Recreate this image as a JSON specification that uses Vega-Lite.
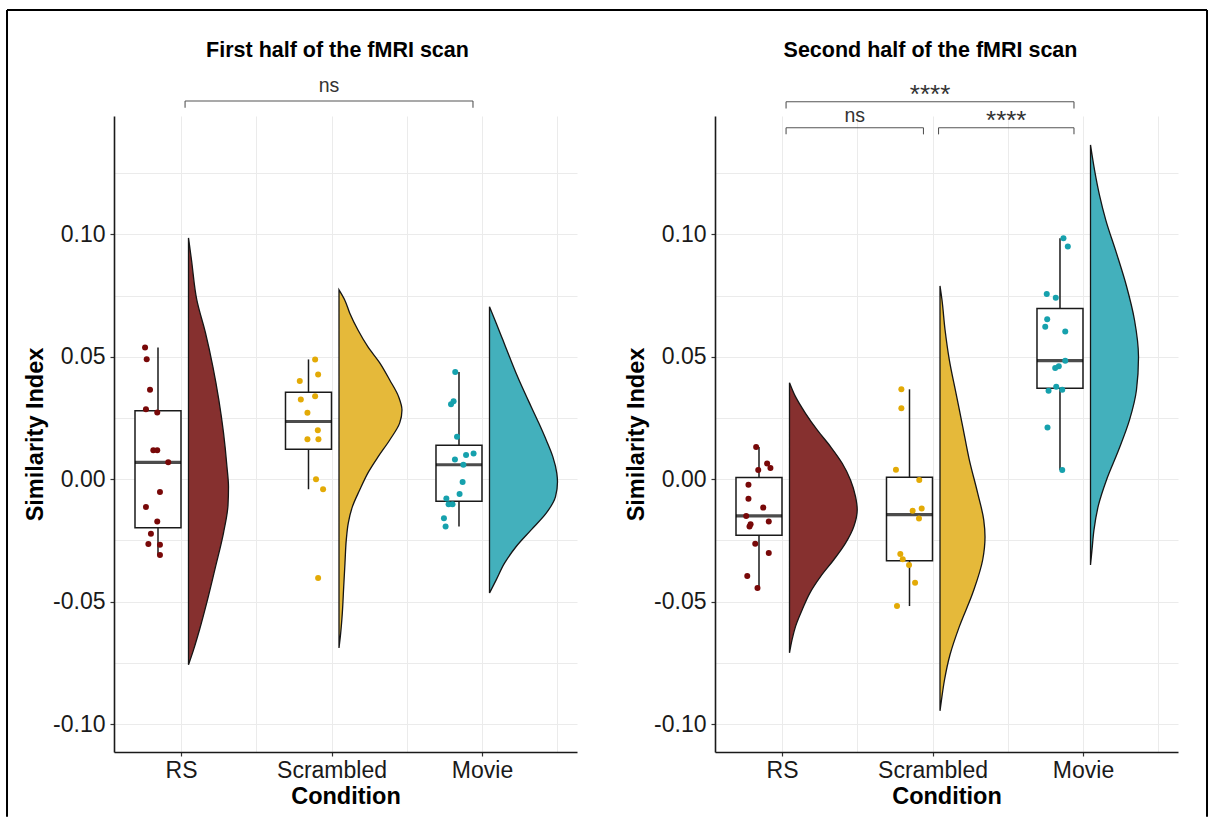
{
  "$schema": "https://vega.github.io/schema/vega-lite/v6.json",
  "background": "white",
  "padding": {"left": 6, "top": 9, "right": 0, "bottom": 0},
  "bounds": "flush",
  "spacing": 138,
  "config": {
    "font": "Liberation Sans",
    "view": {"stroke": null},
    "axis": {"labelFont": "Liberation Sans", "titleFont": "Liberation Sans"}
  },
  "datasets": {
    "sim": [
      {"h": "First", "cond": "RS", "value": 0.0538, "jitter": -0.086},
      {"h": "First", "cond": "RS", "value": 0.0490, "jitter": -0.075},
      {"h": "First", "cond": "RS", "value": 0.0365, "jitter": -0.053},
      {"h": "First", "cond": "RS", "value": 0.0286, "jitter": -0.080},
      {"h": "First", "cond": "RS", "value": 0.0272, "jitter": -0.005},
      {"h": "First", "cond": "RS", "value": 0.0118, "jitter": -0.031},
      {"h": "First", "cond": "RS", "value": 0.0118, "jitter": -0.005},
      {"h": "First", "cond": "RS", "value": 0.0069, "jitter": 0.068},
      {"h": "First", "cond": "RS", "value": -0.0052, "jitter": 0.013},
      {"h": "First", "cond": "RS", "value": -0.0114, "jitter": -0.080},
      {"h": "First", "cond": "RS", "value": -0.0173, "jitter": -0.005},
      {"h": "First", "cond": "RS", "value": -0.0223, "jitter": -0.047},
      {"h": "First", "cond": "RS", "value": -0.0265, "jitter": -0.064},
      {"h": "First", "cond": "RS", "value": -0.0268, "jitter": 0.013},
      {"h": "First", "cond": "RS", "value": -0.0310, "jitter": 0.013},
      {"h": "First", "cond": "Scrambled", "value": 0.0489, "jitter": 0.044},
      {"h": "First", "cond": "Scrambled", "value": 0.0427, "jitter": 0.064},
      {"h": "First", "cond": "Scrambled", "value": 0.0401, "jitter": -0.058},
      {"h": "First", "cond": "Scrambled", "value": 0.0339, "jitter": 0.044},
      {"h": "First", "cond": "Scrambled", "value": 0.0325, "jitter": -0.051},
      {"h": "First", "cond": "Scrambled", "value": 0.0271, "jitter": -0.007},
      {"h": "First", "cond": "Scrambled", "value": 0.0200, "jitter": 0.062},
      {"h": "First", "cond": "Scrambled", "value": 0.0163, "jitter": -0.007},
      {"h": "First", "cond": "Scrambled", "value": 0.0163, "jitter": 0.066},
      {"h": "First", "cond": "Scrambled", "value": 0.0000, "jitter": 0.050},
      {"h": "First", "cond": "Scrambled", "value": -0.0041, "jitter": 0.097},
      {"h": "First", "cond": "Scrambled", "value": -0.0404, "jitter": 0.064},
      {"h": "First", "cond": "Movie", "value": 0.0438, "jitter": -0.025},
      {"h": "First", "cond": "Movie", "value": 0.0306, "jitter": -0.053},
      {"h": "First", "cond": "Movie", "value": 0.0318, "jitter": -0.036},
      {"h": "First", "cond": "Movie", "value": 0.0173, "jitter": -0.013},
      {"h": "First", "cond": "Movie", "value": 0.0105, "jitter": 0.097},
      {"h": "First", "cond": "Movie", "value": 0.0099, "jitter": 0.047},
      {"h": "First", "cond": "Movie", "value": 0.0080, "jitter": -0.027},
      {"h": "First", "cond": "Movie", "value": 0.0059, "jitter": 0.029},
      {"h": "First", "cond": "Movie", "value": -0.0011, "jitter": 0.024},
      {"h": "First", "cond": "Movie", "value": -0.0061, "jitter": 0.004},
      {"h": "First", "cond": "Movie", "value": -0.0079, "jitter": -0.084},
      {"h": "First", "cond": "Movie", "value": -0.0102, "jitter": -0.069},
      {"h": "First", "cond": "Movie", "value": -0.0102, "jitter": -0.043},
      {"h": "First", "cond": "Movie", "value": -0.0160, "jitter": -0.100},
      {"h": "First", "cond": "Movie", "value": -0.0193, "jitter": -0.089},
      {"h": "Second", "cond": "RS", "value": 0.0131, "jitter": -0.019},
      {"h": "Second", "cond": "RS", "value": 0.0064, "jitter": 0.054},
      {"h": "Second", "cond": "RS", "value": 0.0046, "jitter": 0.076},
      {"h": "Second", "cond": "RS", "value": 0.0037, "jitter": -0.005},
      {"h": "Second", "cond": "RS", "value": -0.0023, "jitter": -0.070},
      {"h": "Second", "cond": "RS", "value": -0.0080, "jitter": -0.070},
      {"h": "Second", "cond": "RS", "value": -0.0116, "jitter": 0.028},
      {"h": "Second", "cond": "RS", "value": -0.0150, "jitter": -0.085},
      {"h": "Second", "cond": "RS", "value": -0.0173, "jitter": 0.065},
      {"h": "Second", "cond": "RS", "value": -0.0184, "jitter": -0.056},
      {"h": "Second", "cond": "RS", "value": -0.0193, "jitter": -0.063},
      {"h": "Second", "cond": "RS", "value": -0.0264, "jitter": -0.025},
      {"h": "Second", "cond": "RS", "value": -0.0301, "jitter": 0.065},
      {"h": "Second", "cond": "RS", "value": -0.0395, "jitter": -0.078},
      {"h": "Second", "cond": "RS", "value": -0.0444, "jitter": -0.010},
      {"h": "Second", "cond": "Scrambled", "value": 0.0367, "jitter": -0.054},
      {"h": "Second", "cond": "Scrambled", "value": 0.0290, "jitter": -0.054},
      {"h": "Second", "cond": "Scrambled", "value": 0.0039, "jitter": -0.090},
      {"h": "Second", "cond": "Scrambled", "value": -0.0003, "jitter": 0.065},
      {"h": "Second", "cond": "Scrambled", "value": -0.0120, "jitter": 0.081},
      {"h": "Second", "cond": "Scrambled", "value": -0.0129, "jitter": 0.021},
      {"h": "Second", "cond": "Scrambled", "value": -0.0161, "jitter": 0.063},
      {"h": "Second", "cond": "Scrambled", "value": -0.0306, "jitter": -0.061},
      {"h": "Second", "cond": "Scrambled", "value": -0.0327, "jitter": -0.045},
      {"h": "Second", "cond": "Scrambled", "value": -0.0350, "jitter": -0.003},
      {"h": "Second", "cond": "Scrambled", "value": -0.0423, "jitter": 0.037},
      {"h": "Second", "cond": "Scrambled", "value": -0.0518, "jitter": -0.083},
      {"h": "Second", "cond": "Movie", "value": 0.0984, "jitter": 0.023},
      {"h": "Second", "cond": "Movie", "value": 0.0950, "jitter": 0.052},
      {"h": "Second", "cond": "Movie", "value": 0.0756, "jitter": -0.088},
      {"h": "Second", "cond": "Movie", "value": 0.0741, "jitter": -0.028},
      {"h": "Second", "cond": "Movie", "value": 0.0653, "jitter": -0.085},
      {"h": "Second", "cond": "Movie", "value": 0.0622, "jitter": -0.098},
      {"h": "Second", "cond": "Movie", "value": 0.0603, "jitter": 0.035},
      {"h": "Second", "cond": "Movie", "value": 0.0484, "jitter": 0.035},
      {"h": "Second", "cond": "Movie", "value": 0.0461, "jitter": -0.008},
      {"h": "Second", "cond": "Movie", "value": 0.0454, "jitter": -0.032},
      {"h": "Second", "cond": "Movie", "value": 0.0377, "jitter": -0.025},
      {"h": "Second", "cond": "Movie", "value": 0.0365, "jitter": 0.015},
      {"h": "Second", "cond": "Movie", "value": 0.0361, "jitter": -0.076},
      {"h": "Second", "cond": "Movie", "value": 0.0211, "jitter": -0.083},
      {"h": "Second", "cond": "Movie", "value": 0.0037, "jitter": 0.015}
    ],
    "violin": [
      {"h": "First", "cond": "RS", "v": 0.0985, "d": 0},
      {"h": "First", "cond": "RS", "v": 0.0895, "d": 0.044},
      {"h": "First", "cond": "RS", "v": 0.0732, "d": 0.122},
      {"h": "First", "cond": "RS", "v": 0.0597, "d": 0.25},
      {"h": "First", "cond": "RS", "v": 0.0459, "d": 0.359},
      {"h": "First", "cond": "RS", "v": 0.0324, "d": 0.446},
      {"h": "First", "cond": "RS", "v": 0.0189, "d": 0.515},
      {"h": "First", "cond": "RS", "v": 0.0050, "d": 0.566},
      {"h": "First", "cond": "RS", "v": -0.0031, "d": 0.588},
      {"h": "First", "cond": "RS", "v": -0.0105, "d": 0.581},
      {"h": "First", "cond": "RS", "v": -0.0219, "d": 0.515},
      {"h": "First", "cond": "RS", "v": -0.0358, "d": 0.397},
      {"h": "First", "cond": "RS", "v": -0.0493, "d": 0.279},
      {"h": "First", "cond": "RS", "v": -0.0615, "d": 0.162},
      {"h": "First", "cond": "RS", "v": -0.0697, "d": 0.074},
      {"h": "First", "cond": "RS", "v": -0.0758, "d": 0},
      {"h": "First", "cond": "Scrambled", "v": 0.0773, "d": 0},
      {"h": "First", "cond": "Scrambled", "v": 0.0732, "d": 0.084},
      {"h": "First", "cond": "Scrambled", "v": 0.0679, "d": 0.157},
      {"h": "First", "cond": "Scrambled", "v": 0.0609, "d": 0.279},
      {"h": "First", "cond": "Scrambled", "v": 0.0540, "d": 0.426},
      {"h": "First", "cond": "Scrambled", "v": 0.0475, "d": 0.599},
      {"h": "First", "cond": "Scrambled", "v": 0.0405, "d": 0.746},
      {"h": "First", "cond": "Scrambled", "v": 0.0336, "d": 0.878},
      {"h": "First", "cond": "Scrambled", "v": 0.0283, "d": 0.926},
      {"h": "First", "cond": "Scrambled", "v": 0.0230, "d": 0.893},
      {"h": "First", "cond": "Scrambled", "v": 0.0160, "d": 0.746},
      {"h": "First", "cond": "Scrambled", "v": 0.0091, "d": 0.574},
      {"h": "First", "cond": "Scrambled", "v": 0.0026, "d": 0.426},
      {"h": "First", "cond": "Scrambled", "v": -0.0044, "d": 0.304},
      {"h": "First", "cond": "Scrambled", "v": -0.0113, "d": 0.196},
      {"h": "First", "cond": "Scrambled", "v": -0.0178, "d": 0.137},
      {"h": "First", "cond": "Scrambled", "v": -0.0248, "d": 0.107},
      {"h": "First", "cond": "Scrambled", "v": -0.0342, "d": 0.088},
      {"h": "First", "cond": "Scrambled", "v": -0.0440, "d": 0.069},
      {"h": "First", "cond": "Scrambled", "v": -0.0546, "d": 0.049},
      {"h": "First", "cond": "Scrambled", "v": -0.0636, "d": 0.022},
      {"h": "First", "cond": "Scrambled", "v": -0.0689, "d": 0},
      {"h": "First", "cond": "Movie", "v": 0.0704, "d": 0},
      {"h": "First", "cond": "Movie", "v": 0.0637, "d": 0.099},
      {"h": "First", "cond": "Movie", "v": 0.0569, "d": 0.196},
      {"h": "First", "cond": "Movie", "v": 0.0500, "d": 0.294},
      {"h": "First", "cond": "Movie", "v": 0.0432, "d": 0.393},
      {"h": "First", "cond": "Movie", "v": 0.0364, "d": 0.5},
      {"h": "First", "cond": "Movie", "v": 0.0296, "d": 0.613},
      {"h": "First", "cond": "Movie", "v": 0.0229, "d": 0.725},
      {"h": "First", "cond": "Movie", "v": 0.0160, "d": 0.834},
      {"h": "First", "cond": "Movie", "v": 0.0092, "d": 0.931},
      {"h": "First", "cond": "Movie", "v": 0.0024, "d": 0.99},
      {"h": "First", "cond": "Movie", "v": -0.0010, "d": 1.0},
      {"h": "First", "cond": "Movie", "v": -0.0071, "d": 0.971},
      {"h": "First", "cond": "Movie", "v": -0.0139, "d": 0.834},
      {"h": "First", "cond": "Movie", "v": -0.0207, "d": 0.613},
      {"h": "First", "cond": "Movie", "v": -0.0275, "d": 0.393},
      {"h": "First", "cond": "Movie", "v": -0.0343, "d": 0.221},
      {"h": "First", "cond": "Movie", "v": -0.0411, "d": 0.099},
      {"h": "First", "cond": "Movie", "v": -0.0465, "d": 0},
      {"h": "Second", "cond": "RS", "v": 0.0394, "d": 0},
      {"h": "Second", "cond": "RS", "v": 0.0337, "d": 0.088},
      {"h": "Second", "cond": "RS", "v": 0.0269, "d": 0.235},
      {"h": "Second", "cond": "RS", "v": 0.0201, "d": 0.407},
      {"h": "Second", "cond": "RS", "v": 0.0133, "d": 0.603},
      {"h": "Second", "cond": "RS", "v": 0.0065, "d": 0.775},
      {"h": "Second", "cond": "RS", "v": -0.0003, "d": 0.897},
      {"h": "Second", "cond": "RS", "v": -0.0071, "d": 0.971},
      {"h": "Second", "cond": "RS", "v": -0.0125, "d": 0.996},
      {"h": "Second", "cond": "RS", "v": -0.0193, "d": 0.946},
      {"h": "Second", "cond": "RS", "v": -0.0261, "d": 0.824},
      {"h": "Second", "cond": "RS", "v": -0.0329, "d": 0.651},
      {"h": "Second", "cond": "RS", "v": -0.0398, "d": 0.456},
      {"h": "Second", "cond": "RS", "v": -0.0465, "d": 0.299},
      {"h": "Second", "cond": "RS", "v": -0.0533, "d": 0.187},
      {"h": "Second", "cond": "RS", "v": -0.0602, "d": 0.088},
      {"h": "Second", "cond": "RS", "v": -0.0656, "d": 0.037},
      {"h": "Second", "cond": "RS", "v": -0.0709, "d": 0},
      {"h": "Second", "cond": "Scrambled", "v": 0.0789, "d": 0},
      {"h": "Second", "cond": "Scrambled", "v": 0.0732, "d": 0.029},
      {"h": "Second", "cond": "Scrambled", "v": 0.0610, "d": 0.074},
      {"h": "Second", "cond": "Scrambled", "v": 0.0487, "d": 0.137},
      {"h": "Second", "cond": "Scrambled", "v": 0.0351, "d": 0.235},
      {"h": "Second", "cond": "Scrambled", "v": 0.0215, "d": 0.334},
      {"h": "Second", "cond": "Scrambled", "v": 0.0079, "d": 0.431},
      {"h": "Second", "cond": "Scrambled", "v": -0.0057, "d": 0.554},
      {"h": "Second", "cond": "Scrambled", "v": -0.0166, "d": 0.643},
      {"h": "Second", "cond": "Scrambled", "v": -0.0236, "d": 0.662},
      {"h": "Second", "cond": "Scrambled", "v": -0.0329, "d": 0.628},
      {"h": "Second", "cond": "Scrambled", "v": -0.0465, "d": 0.481},
      {"h": "Second", "cond": "Scrambled", "v": -0.0602, "d": 0.284},
      {"h": "Second", "cond": "Scrambled", "v": -0.0717, "d": 0.147},
      {"h": "Second", "cond": "Scrambled", "v": -0.0820, "d": 0.066},
      {"h": "Second", "cond": "Scrambled", "v": -0.0901, "d": 0.022},
      {"h": "Second", "cond": "Scrambled", "v": -0.0946, "d": 0},
      {"h": "Second", "cond": "Movie", "v": 0.1365, "d": 0},
      {"h": "Second", "cond": "Movie", "v": 0.1263, "d": 0.059},
      {"h": "Second", "cond": "Movie", "v": 0.1160, "d": 0.132},
      {"h": "Second", "cond": "Movie", "v": 0.1058, "d": 0.225},
      {"h": "Second", "cond": "Movie", "v": 0.0923, "d": 0.382},
      {"h": "Second", "cond": "Movie", "v": 0.0789, "d": 0.529},
      {"h": "Second", "cond": "Movie", "v": 0.0650, "d": 0.647},
      {"h": "Second", "cond": "Movie", "v": 0.0499, "d": 0.706},
      {"h": "Second", "cond": "Movie", "v": 0.0364, "d": 0.676},
      {"h": "Second", "cond": "Movie", "v": 0.0242, "d": 0.574},
      {"h": "Second", "cond": "Movie", "v": 0.0118, "d": 0.412},
      {"h": "Second", "cond": "Movie", "v": -0.0003, "d": 0.235},
      {"h": "Second", "cond": "Movie", "v": -0.0105, "d": 0.118},
      {"h": "Second", "cond": "Movie", "v": -0.0207, "d": 0.051},
      {"h": "Second", "cond": "Movie", "v": -0.0289, "d": 0.022},
      {"h": "Second", "cond": "Movie", "v": -0.0350, "d": 0}
    ],
    "sig": [
      {"h": "First", "xmin": 1.027, "xmax": 2.94, "yb": 0.1544, "ytip": 0.1517, "label": "ns"},
      {"h": "Second", "xmin": 1.027, "xmax": 2.94, "yb": 0.1541, "ytip": 0.1514, "label": "****"},
      {"h": "Second", "xmin": 1.027, "xmax": 1.94, "yb": 0.1435, "ytip": 0.1408, "label": "ns"},
      {"h": "Second", "xmin": 2.04, "xmax": 2.94, "yb": 0.1435, "ytip": 0.1408, "label": "****"}
    ]
  },
  "hconcat": [
    {
      "width": 463,
      "height": 636,
      "resolve": {"scale": {"x": "independent"}, "axis": {"y": "independent"}},
      "layer": [
        {
          "data": {"name": "sig"},
          "transform": [{"filter": "datum.h === 'First'"}],
          "mark": {"type": "rule", "color": "#555555", "strokeWidth": 1.1},
          "encoding": {
            "x": {"field": "xmin", "type": "quantitative", "scale": {"domain": [0.5548, 3.6312], "nice": false, "zero": false},
              "axis": {"values": [1, 1.5, 2, 2.5, 3, 3.5], "labelExpr": "datum.value == 1 ? 'RS' : datum.value == 2 ? 'Scrambled' : datum.value == 3 ? 'Movie' : ''",
                "tickOpacity": {"condition": {"test": "datum.value % 1 == 0", "value": 1}, "value": 0},
                "title": "Condition", "grid": true, "gridColor": "#EBEBEB", "gridWidth": 1, "domainColor": "#1a1a1a", "domainWidth": 1.6,
                "tickColor": "#333333", "tickSize": 4, "tickWidth": 1.2, "labelFontSize": 23, "labelColor": "#1a1a1a", "labelPadding": 3,
                "labelFlush": false, "labelOverlap": false, "titleFontSize": 23.5, "titleFontWeight": "bold", "titleColor": "#000000", "titlePadding": 2}},
            "x2": {"field": "xmax"},
            "y": {"field": "yb", "type": "quantitative", "scale": {"domain": [-0.1114, 0.1483], "nice": false, "zero": false},
              "axis": {"orient": "left", "values": [-0.1, -0.075, -0.05, -0.025, 0, 0.025, 0.05, 0.075, 0.1, 0.125],
                "labels": false, "ticks": false, "domain": false, "title": null, "grid": true, "gridColor": "#EBEBEB", "gridWidth": 1}}
          }
        },
        {
          "data": {"name": "sig"},
          "transform": [{"filter": "datum.h === 'First'"}, {"fold": ["xmin", "xmax"], "as": ["end", "xend"]}],
          "mark": {"type": "rule", "color": "#555555", "strokeWidth": 1.1},
          "encoding": {
            "x": {"field": "xend", "type": "quantitative", "scale": {"domain": [0.5548, 3.6312], "nice": false, "zero": false},
              "axis": {"orient": "top", "title": "First half of the fMRI scan", "labels": false, "ticks": false, "domain": false, "grid": false,
                "titleFontSize": 21.5, "titleFontWeight": "bold", "titleColor": "#000000", "titlePadding": 55, "titleX": 223}},
            "y": {"field": "yb", "type": "quantitative", "scale": {"domain": [-0.1114, 0.1483], "nice": false, "zero": false}, "axis": null},
            "y2": {"field": "ytip"}
          }
        },
        {
          "data": {"name": "sig"},
          "transform": [{"filter": "datum.h === 'First' && datum.label === 'ns'"}, {"fold": ["xmin", "xmax"], "as": ["end", "xend"]},
            {"aggregate": [{"op": "mean", "field": "xend", "as": "xmid"}], "groupby": ["label", "yb"]}],
          "mark": {"type": "text", "fontSize": 19.5, "color": "#333333", "baseline": "alphabetic", "dy": -9},
          "encoding": {
            "x": {"field": "xmid", "type": "quantitative", "scale": {"domain": [0.5548, 3.6312], "nice": false, "zero": false}, "axis": null},
            "y": {"field": "yb", "type": "quantitative", "scale": {"domain": [-0.1114, 0.1483], "nice": false, "zero": false}, "axis": null},
            "text": {"field": "label"}
          }
        },
        {
          "data": {"name": "violin"},
          "transform": [{"filter": "datum.h === 'First' && datum.cond === 'RS'"}],
          "mark": {"type": "area", "orient": "horizontal", "interpolate": "monotone", "fill": "#86302F", "stroke": "#151515", "strokeWidth": 1.3},
          "encoding": {
            "x": {"field": "d", "type": "quantitative", "scale": {"domain": [-1.0956, 5.7132], "nice": false, "zero": false}, "axis": null},
            "x2": {"datum": 0},
            "y": {"field": "v", "type": "quantitative", "scale": {"domain": [-0.1114, 0.1483], "nice": false, "zero": false}, "axis": null}
          }
        },
        {
          "data": {"name": "violin"},
          "transform": [{"filter": "datum.h === 'First' && datum.cond === 'Scrambled'"}],
          "mark": {"type": "area", "orient": "horizontal", "interpolate": "monotone", "fill": "#E5B93A", "stroke": "#151515", "strokeWidth": 1.3},
          "encoding": {
            "x": {"field": "d", "type": "quantitative", "scale": {"domain": [-3.3088, 3.5], "nice": false, "zero": false}, "axis": null},
            "x2": {"datum": 0},
            "y": {"field": "v", "type": "quantitative", "scale": {"domain": [-0.1114, 0.1483], "nice": false, "zero": false}, "axis": null}
          }
        },
        {
          "data": {"name": "violin"},
          "transform": [{"filter": "datum.h === 'First' && datum.cond === 'Movie'"}],
          "mark": {"type": "area", "orient": "horizontal", "interpolate": "monotone", "fill": "#43B0BC", "stroke": "#151515", "strokeWidth": 1.3},
          "encoding": {
            "x": {"field": "d", "type": "quantitative", "scale": {"domain": [-5.5221, 1.2868], "nice": false, "zero": false}, "axis": null},
            "x2": {"datum": 0},
            "y": {"field": "v", "type": "quantitative", "scale": {"domain": [-0.1114, 0.1483], "nice": false, "zero": false}, "axis": null}
          }
        },
        {
          "data": {"name": "sim"},
          "transform": [{"filter": "datum.h === 'First'"}],
          "mark": {"type": "boxplot", "extent": 1.5, "size": 46, "outliers": false, "ticks": false,
            "box": {"fill": "white", "stroke": "#1a1a1a", "strokeWidth": 1.5},
            "median": {"color": "#000000", "thickness": 3.2},
            "rule": {"color": "#1a1a1a", "strokeWidth": 1.5}},
          "encoding": {
            "x": {"field": "cond", "type": "nominal", "scale": {"type": "band", "domain": ["RS", "Scrambled", "Movie"], "paddingInner": 0.4153, "paddingOuter": 0.2459, "align": 0}, "axis": null},
            "y": {"field": "value", "type": "quantitative", "scale": {"domain": [-0.1114, 0.1483], "nice": false, "zero": false}, "axis": null}
          }
        },
        {
          "data": {"name": "sim"},
          "transform": [{"filter": "datum.h === 'First'"}],
          "mark": {"type": "circle", "size": 36, "opacity": 1},
          "encoding": {
            "x": {"field": "cond", "type": "nominal", "scale": {"type": "band", "domain": ["RS", "Scrambled", "Movie"], "paddingInner": 0.4153, "paddingOuter": 0.2459, "align": 0}, "axis": null},
            "xOffset": {"field": "jitter", "type": "quantitative", "scale": {"domain": [-0.2924, 0.2924], "nice": false, "zero": false}},
            "y": {"field": "value", "type": "quantitative", "scale": {"domain": [-0.1114, 0.1483], "nice": false, "zero": false},
              "axis": {"orient": "left", "values": [-0.1, -0.05, 0, 0.05, 0.1], "labelExpr": "replace(format(datum.value, '.2f'), '\u2212', '-')",
                "title": "Similarity Index", "grid": false, "domainColor": "#1a1a1a", "domainWidth": 1.6,
                "tickColor": "#333333", "tickSize": 4, "tickWidth": 1.2, "labelFontSize": 23, "labelColor": "#1a1a1a", "labelPadding": 5,
                "labelFlush": false, "labelOverlap": false, "titleFontSize": 23.5, "titleFontWeight": "bold", "titleColor": "#000000", "titlePadding": 5}},
            "color": {"field": "cond", "type": "nominal", "scale": {"domain": ["RS", "Scrambled", "Movie"], "range": ["#780808", "#E3AA06", "#16A1AD"]}, "legend": null}
          }
        },
        {
          "data": {"values": [{}]},
          "mark": {"type": "rule", "color": "#000000", "strokeWidth": 2},
          "encoding": {
            "x": {"datum": -0.1561, "type": "quantitative", "scale": {"domain": [0.5548, 3.6312], "nice": false, "zero": false}, "axis": null},
            "x2": {"datum": 7.8173},
            "y": {"datum": 0.19155, "type": "quantitative", "scale": {"domain": [-0.1114, 0.1483], "nice": false, "zero": false}, "axis": null}
          }
        },
        {
          "data": {"values": [{"side": -0.1561}, {"side": 7.8173}]},
          "mark": {"type": "rule", "color": "#000000", "strokeWidth": 2},
          "encoding": {
            "x": {"field": "side", "type": "quantitative", "scale": {"domain": [0.5548, 3.6312], "nice": false, "zero": false}, "axis": null},
            "y": {"datum": 0.19155, "type": "quantitative", "scale": {"domain": [-0.1114, 0.1483], "nice": false, "zero": false}, "axis": null},
            "y2": {"datum": -0.1378}
          }
        }
      ]
    },
    {
      "width": 463,
      "height": 636,
      "resolve": {"scale": {"x": "independent"}, "axis": {"y": "independent"}},
      "layer": [
        {
          "data": {"name": "sig"},
          "transform": [{"filter": "datum.h === 'Second'"}],
          "mark": {"type": "rule", "color": "#555555", "strokeWidth": 1.1},
          "encoding": {
            "x": {"field": "xmin", "type": "quantitative", "scale": {"domain": [0.5548, 3.6312], "nice": false, "zero": false},
              "axis": {"values": [1, 1.5, 2, 2.5, 3, 3.5], "labelExpr": "datum.value == 1 ? 'RS' : datum.value == 2 ? 'Scrambled' : datum.value == 3 ? 'Movie' : ''",
                "tickOpacity": {"condition": {"test": "datum.value % 1 == 0", "value": 1}, "value": 0},
                "title": "Condition", "grid": true, "gridColor": "#EBEBEB", "gridWidth": 1, "domainColor": "#1a1a1a", "domainWidth": 1.6,
                "tickColor": "#333333", "tickSize": 4, "tickWidth": 1.2, "labelFontSize": 23, "labelColor": "#1a1a1a", "labelPadding": 3,
                "labelFlush": false, "labelOverlap": false, "titleFontSize": 23.5, "titleFontWeight": "bold", "titleColor": "#000000", "titlePadding": 2}},
            "x2": {"field": "xmax"},
            "y": {"field": "yb", "type": "quantitative", "scale": {"domain": [-0.1114, 0.1483], "nice": false, "zero": false},
              "axis": {"orient": "left", "values": [-0.1, -0.075, -0.05, -0.025, 0, 0.025, 0.05, 0.075, 0.1, 0.125],
                "labels": false, "ticks": false, "domain": false, "title": null, "grid": true, "gridColor": "#EBEBEB", "gridWidth": 1}}
          }
        },
        {
          "data": {"name": "sig"},
          "transform": [{"filter": "datum.h === 'Second'"}, {"fold": ["xmin", "xmax"], "as": ["end", "xend"]}],
          "mark": {"type": "rule", "color": "#555555", "strokeWidth": 1.1},
          "encoding": {
            "x": {"field": "xend", "type": "quantitative", "scale": {"domain": [0.5548, 3.6312], "nice": false, "zero": false},
              "axis": {"orient": "top", "title": "Second half of the fMRI scan", "labels": false, "ticks": false, "domain": false, "grid": false,
                "titleFontSize": 21.5, "titleFontWeight": "bold", "titleColor": "#000000", "titlePadding": 55, "titleX": 215}},
            "y": {"field": "yb", "type": "quantitative", "scale": {"domain": [-0.1114, 0.1483], "nice": false, "zero": false}, "axis": null},
            "y2": {"field": "ytip"}
          }
        },
        {
          "data": {"name": "sig"},
          "transform": [{"filter": "datum.h === 'Second' && datum.label === 'ns'"}, {"fold": ["xmin", "xmax"], "as": ["end", "xend"]},
            {"aggregate": [{"op": "mean", "field": "xend", "as": "xmid"}], "groupby": ["label", "yb"]}],
          "mark": {"type": "text", "fontSize": 19.5, "color": "#333333", "baseline": "alphabetic", "dy": -5.5},
          "encoding": {
            "x": {"field": "xmid", "type": "quantitative", "scale": {"domain": [0.5548, 3.6312], "nice": false, "zero": false}, "axis": null},
            "y": {"field": "yb", "type": "quantitative", "scale": {"domain": [-0.1114, 0.1483], "nice": false, "zero": false}, "axis": null},
            "text": {"field": "label"}
          }
        },
        {
          "data": {"name": "sig"},
          "transform": [{"filter": "datum.h === 'Second' && datum.label === '****'"}, {"fold": ["xmin", "xmax"], "as": ["end", "xend"]},
            {"aggregate": [{"op": "mean", "field": "xend", "as": "xmid"}], "groupby": ["label", "yb"]}],
          "mark": {"type": "text", "fontSize": 26, "color": "#333333", "baseline": "alphabetic", "dy": 1},
          "encoding": {
            "x": {"field": "xmid", "type": "quantitative", "scale": {"domain": [0.5548, 3.6312], "nice": false, "zero": false}, "axis": null},
            "y": {"field": "yb", "type": "quantitative", "scale": {"domain": [-0.1114, 0.1483], "nice": false, "zero": false}, "axis": null},
            "text": {"field": "label"}
          }
        },
        {
          "data": {"name": "violin"},
          "transform": [{"filter": "datum.h === 'Second' && datum.cond === 'RS'"}],
          "mark": {"type": "area", "orient": "horizontal", "interpolate": "monotone", "fill": "#86302F", "stroke": "#151515", "strokeWidth": 1.3},
          "encoding": {
            "x": {"field": "d", "type": "quantitative", "scale": {"domain": [-1.0956, 5.7132], "nice": false, "zero": false}, "axis": null},
            "x2": {"datum": 0},
            "y": {"field": "v", "type": "quantitative", "scale": {"domain": [-0.1114, 0.1483], "nice": false, "zero": false}, "axis": null}
          }
        },
        {
          "data": {"name": "violin"},
          "transform": [{"filter": "datum.h === 'Second' && datum.cond === 'Scrambled'"}],
          "mark": {"type": "area", "orient": "horizontal", "interpolate": "monotone", "fill": "#E5B93A", "stroke": "#151515", "strokeWidth": 1.3},
          "encoding": {
            "x": {"field": "d", "type": "quantitative", "scale": {"domain": [-3.3088, 3.5], "nice": false, "zero": false}, "axis": null},
            "x2": {"datum": 0},
            "y": {"field": "v", "type": "quantitative", "scale": {"domain": [-0.1114, 0.1483], "nice": false, "zero": false}, "axis": null}
          }
        },
        {
          "data": {"name": "violin"},
          "transform": [{"filter": "datum.h === 'Second' && datum.cond === 'Movie'"}],
          "mark": {"type": "area", "orient": "horizontal", "interpolate": "monotone", "fill": "#43B0BC", "stroke": "#151515", "strokeWidth": 1.3},
          "encoding": {
            "x": {"field": "d", "type": "quantitative", "scale": {"domain": [-5.5221, 1.2868], "nice": false, "zero": false}, "axis": null},
            "x2": {"datum": 0},
            "y": {"field": "v", "type": "quantitative", "scale": {"domain": [-0.1114, 0.1483], "nice": false, "zero": false}, "axis": null}
          }
        },
        {
          "data": {"name": "sim"},
          "transform": [{"filter": "datum.h === 'Second'"}],
          "mark": {"type": "boxplot", "extent": 1.5, "size": 46, "outliers": false, "ticks": false,
            "box": {"fill": "white", "stroke": "#1a1a1a", "strokeWidth": 1.5},
            "median": {"color": "#000000", "thickness": 3.2},
            "rule": {"color": "#1a1a1a", "strokeWidth": 1.5}},
          "encoding": {
            "x": {"field": "cond", "type": "nominal", "scale": {"type": "band", "domain": ["RS", "Scrambled", "Movie"], "paddingInner": 0.4153, "paddingOuter": 0.2459, "align": 0}, "axis": null},
            "y": {"field": "value", "type": "quantitative", "scale": {"domain": [-0.1114, 0.1483], "nice": false, "zero": false}, "axis": null}
          }
        },
        {
          "data": {"name": "sim"},
          "transform": [{"filter": "datum.h === 'Second'"}],
          "mark": {"type": "circle", "size": 36, "opacity": 1},
          "encoding": {
            "x": {"field": "cond", "type": "nominal", "scale": {"type": "band", "domain": ["RS", "Scrambled", "Movie"], "paddingInner": 0.4153, "paddingOuter": 0.2459, "align": 0}, "axis": null},
            "xOffset": {"field": "jitter", "type": "quantitative", "scale": {"domain": [-0.2924, 0.2924], "nice": false, "zero": false}},
            "y": {"field": "value", "type": "quantitative", "scale": {"domain": [-0.1114, 0.1483], "nice": false, "zero": false},
              "axis": {"orient": "left", "values": [-0.1, -0.05, 0, 0.05, 0.1], "labelExpr": "replace(format(datum.value, '.2f'), '\u2212', '-')",
                "title": "Similarity Index", "grid": false, "domainColor": "#1a1a1a", "domainWidth": 1.6,
                "tickColor": "#333333", "tickSize": 4, "tickWidth": 1.2, "labelFontSize": 23, "labelColor": "#1a1a1a", "labelPadding": 5,
                "labelFlush": false, "labelOverlap": false, "titleFontSize": 23.5, "titleFontWeight": "bold", "titleColor": "#000000", "titlePadding": 5}},
            "color": {"field": "cond", "type": "nominal", "scale": {"domain": ["RS", "Scrambled", "Movie"], "range": ["#780808", "#E3AA06", "#16A1AD"]}, "legend": null}
          }
        }
      ]
    }
  ]
}
